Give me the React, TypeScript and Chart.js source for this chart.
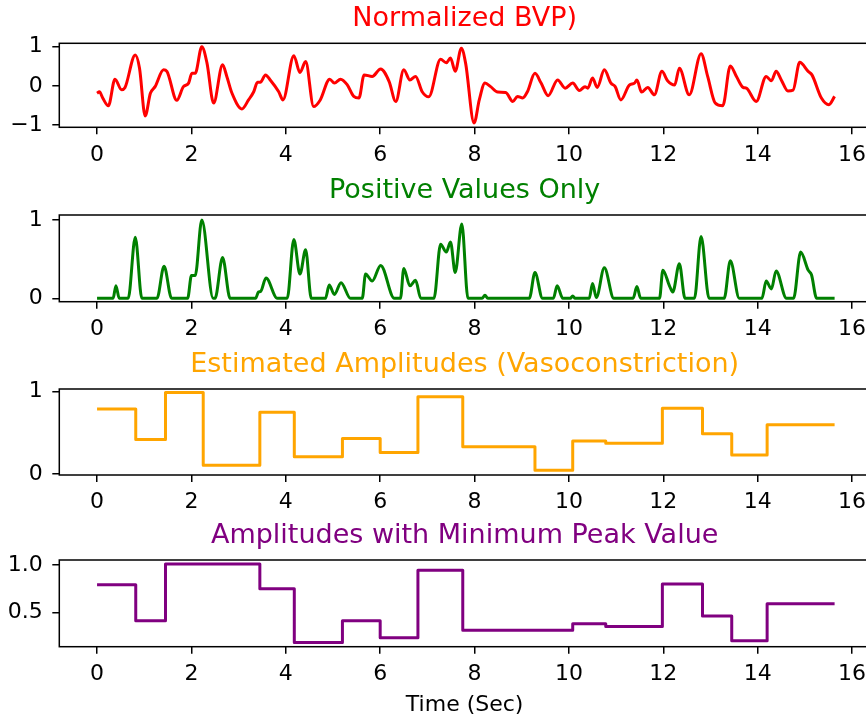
import React, { useEffect, useRef } from 'react';
import { Chart, registerables } from 'chart.js';

Chart.register(...registerables);

// ---------- data ----------
const bvpTime = [
  0.0, 0.05, 0.12, 0.24, 0.38, 0.52, 0.59, 0.81, 0.9, 1.02, 1.13, 1.23, 1.41, 1.48, 1.69, 1.83, 1.94,
  2.01, 2.08, 2.22, 2.33, 2.47, 2.66, 2.75, 2.86, 3.07, 3.21, 3.32, 3.4, 3.46, 3.57, 3.67, 3.85, 3.94,
  4.17, 4.3, 4.42, 4.59, 4.73, 4.93, 5.03, 5.16, 5.3, 5.44, 5.55, 5.66, 5.83, 6.01, 6.19, 6.33, 6.5,
  6.63, 6.75, 6.89, 7.03, 7.28, 7.4, 7.49, 7.59, 7.72, 7.81, 7.99, 8.1, 8.22, 8.34, 8.49, 8.66, 8.81,
  8.91, 9.02, 9.12, 9.28, 9.41, 9.56, 9.76, 9.92, 10.08, 10.22, 10.34, 10.4, 10.5, 10.6, 10.75, 10.89,
  10.98, 11.1, 11.28, 11.39, 11.44, 11.54, 11.67, 11.81, 11.97, 12.09, 12.24, 12.34, 12.55, 12.8,
  12.94, 13.1, 13.26, 13.42, 13.55, 13.69, 13.76, 13.97, 14.18, 14.29, 14.39, 14.5, 14.64, 14.75,
  14.89, 15.07, 15.15, 15.35, 15.51, 15.63,
];
const bvpValue = [
  -0.19, -0.15, -0.31, -0.51, 0.17, -0.1, -0.05, 0.79, 0.45, -0.77, -0.19, -0.02, 0.41, 0.37, -0.37,
  -0.02, 0.07, 0.32, 0.32, 1.0, 0.58, -0.44, 0.54, 0.24, -0.19, -0.59, -0.36, -0.15, 0.09, 0.09, 0.28,
  0.15, -0.15, -0.36, 0.77, 0.34, 0.62, -0.53, -0.36, 0.17, 0.07, 0.17, 0.03, -0.27, -0.31, 0.28, 0.24,
  0.43, 0.11, -0.4, 0.41, 0.15, 0.24, -0.15, -0.28, 0.68, 0.59, 0.71, 0.37, 0.96, 0.58, -0.95, -0.36,
  0.07, -0.02, -0.16, -0.17, -0.4, -0.27, -0.31, -0.15, 0.32, 0.07, -0.25, 0.15, -0.06, 0.07, -0.12,
  -0.02, -0.06, 0.2, -0.04, 0.41, 0.07, -0.02, -0.36, 0.02, 0.07, 0.15, -0.16, -0.04, -0.23, 0.37, 0.13,
  0.02, 0.45, -0.23, 0.82, 0.24, -0.44, -0.51, 0.51, 0.24, -0.04, -0.06, -0.4, 0.24, 0.13, 0.37, 0.15,
  -0.13, -0.11, 0.6, 0.37, 0.28, -0.31, -0.48, -0.27,
];

const posTime = [
  0, 0.34, 0.4, 0.47, 0.66, 0.81, 0.95, 1.27, 1.42, 1.58, 1.92, 2.0, 2.08, 2.22, 2.46, 2.5, 2.66, 2.82,
  3.36, 3.42, 3.47, 3.58, 3.82, 4.03, 4.17, 4.3, 4.42, 4.54, 4.84, 4.92, 5.03, 5.17, 5.37, 5.62, 5.69,
  5.83, 6.01, 6.3, 6.43, 6.5, 6.63, 6.75, 6.86, 7.14, 7.28, 7.4, 7.49, 7.59, 7.73, 7.86, 8.16, 8.22,
  8.28, 9.16, 9.28, 9.44, 9.67, 9.75, 9.87, 10.03, 10.08, 10.13, 10.43, 10.5, 10.58, 10.75, 10.95,
  11.36, 11.44, 11.52, 11.92, 11.99, 12.13, 12.2, 12.34, 12.46, 12.66, 12.8, 12.97, 13.29, 13.42,
  13.61, 14.09, 14.18, 14.29, 14.39, 14.61, 14.76, 14.91, 15.07, 15.14, 15.25, 15.63,
];
const posValue = [
  0, 0, 0.16, 0, 0, 0.78, 0, 0, 0.41, 0, 0, 0.29, 0.29, 1.0, 0, 0, 0.52, 0, 0, 0.08, 0.09, 0.26, 0, 0,
  0.75, 0.31, 0.62, 0, 0, 0.17, 0.05, 0.2, 0, 0, 0.31, 0.22, 0.42, 0, 0, 0.38, 0.16, 0.23, 0, 0, 0.69,
  0.59, 0.72, 0.33, 0.95, 0, 0, 0.04, 0, 0, 0.33, 0, 0, 0.16, 0, 0, 0.03, 0, 0, 0.19, 0.01, 0.39, 0,
  0, 0.15, 0, 0, 0.36, 0.16, 0.08, 0.44, 0, 0, 0.79, 0, 0, 0.48, 0, 0, 0.22, 0.12, 0.35, 0, 0, 0.59,
  0.36, 0.3, 0, 0,
];

const ampTime = [0, 0.82, 1.45, 2.25, 3.45, 4.18, 5.2, 6.0, 6.8, 7.75, 9.28, 10.08, 10.78, 11.98, 12.83, 13.45, 14.2, 15.63];
const ampValue = [0.79, 0.42, 0.99, 0.105, 0.75, 0.21, 0.43, 0.26, 0.94, 0.33, 0.045, 0.4, 0.375, 0.8, 0.49, 0.23, 0.6, 0.6];

const minAmpTime = [0, 0.82, 1.45, 3.45, 4.18, 5.2, 6.0, 6.8, 7.75, 10.08, 10.78, 11.98, 12.83, 13.45, 14.2, 15.63];
const minAmpValue = [0.79, 0.41, 1.01, 0.75, 0.18, 0.41, 0.23, 0.945, 0.31, 0.38, 0.35, 0.8, 0.46, 0.2, 0.59, 0.59];

const xTicks = [0, 2, 4, 6, 8, 10, 12, 14, 16];
const bvpTicks = [-1, 0, 1];
const posTicks = [0, 1];
const ampTicks = [0, 1];
const minAmpTicks = [0.5, 1.0];

const panelTitles = [
  'Normalized BVP)',
  'Positive Values Only',
  'Estimated Amplitudes (Vasoconstriction)',
  'Amplitudes with Minimum Peak Value',
];
const xAxisLabel = 'Time (Sec)';

// ---------- layout / style ----------
const FONT_FAMILY = "'DejaVu Sans', 'Liberation Sans', sans-serif";
const CANVAS_W = 880;
const CANVAS_H = 720;
const AREA_LEFT = 59.3;
const AREA_RIGHT = 870;
const TITLE_SIZE = 27;
const TITLE_BLOCK = 37.5;
const TICK_SIZE = 22;

type Panel = {
  title: string;
  color: string;
  times: number[];
  values: number[];
  yMin: number;
  yMax: number;
  yTicks: number[];
  decimals: number;
  top: number;
  bottom: number;
  stepped: boolean;
  monotone: boolean;
  xLabel: string;
  xAxisH: number;
};

const panels: Panel[] = [
  { title: panelTitles[0], color: '#ff0000', times: bvpTime, values: bvpValue, yMin: -1.059, yMax: 1.087, yTicks: bvpTicks, decimals: 0, top: 43.3, bottom: 127.3, stepped: false, monotone: true, xLabel: '', xAxisH: 40 },
  { title: panelTitles[1], color: '#008000', times: posTime, values: posValue, yMin: -0.043, yMax: 1.064, yTicks: posTicks, decimals: 0, top: 215, bottom: 301.7, stepped: false, monotone: true, xLabel: '', xAxisH: 40 },
  { title: panelTitles[2], color: '#ffa500', times: ampTime, values: ampValue, yMin: -0.012, yMax: 1.033, yTicks: ampTicks, decimals: 0, top: 389, bottom: 475, stepped: true, monotone: false, xLabel: '', xAxisH: 40 },
  { title: panelTitles[3], color: '#800080', times: minAmpTime, values: minAmpValue, yMin: 0.136, yMax: 1.053, yTicks: minAmpTicks, decimals: 1, top: 560, bottom: 646.7, stepped: true, monotone: false, xLabel: xAxisLabel, xAxisH: 73.3 },
];

const fmt = (v: number, decimals: number) => {
  const s = decimals ? Math.abs(v).toFixed(decimals) : String(Math.round(Math.abs(v)));
  return v < 0 ? '\u2212' + s : s;
};

const boxPlugin = {
  id: 'axesBox',
  afterDatasetsDraw(chart: any) {
    const { ctx, chartArea: a } = chart;
    ctx.save();
    ctx.strokeStyle = '#000';
    ctx.lineWidth = 1.5;
    ctx.strokeRect(a.left, a.top, a.right - a.left, a.bottom - a.top);
    ctx.restore();
  },
};

function makeConfig(p: Panel): any {
  const tickGrid = {
    drawOnChartArea: false,
    drawTicks: true,
    tickLength: 7,
    tickColor: '#000',
    tickWidth: 1.5,
    color: '#000',
    lineWidth: 1.5,
  };
  const tickFont = { family: FONT_FAMILY, size: TICK_SIZE, lineHeight: 1 };
  return {
    type: 'line',
    data: {
      datasets: [
        {
          data: p.times.map((t, i) => ({ x: t, y: p.values[i] })),
          borderColor: p.color,
          borderWidth: 3,
          pointRadius: 0,
          fill: false,
          stepped: p.stepped ? true : false,
          tension: p.monotone ? 0.4 : 0,
          cubicInterpolationMode: p.monotone ? 'monotone' : 'default',
          borderJoinStyle: 'round',
          borderCapStyle: 'butt',
        },
      ],
    },
    options: {
      animation: false,
      responsive: false,
      devicePixelRatio: 1,
      layout: {
        padding: {
          top: p.top - TITLE_BLOCK,
          bottom: CANVAS_H - p.bottom - p.xAxisH,
          left: 0,
          right: CANVAS_W - AREA_RIGHT,
        },
      },
      plugins: {
        legend: { display: false },
        tooltip: { enabled: false },
        title: {
          display: true,
          text: p.title,
          color: p.color,
          fullSize: false,
          font: { family: FONT_FAMILY, size: TITLE_SIZE, weight: 'normal', lineHeight: 1 },
          padding: { top: 0, bottom: TITLE_BLOCK - TITLE_SIZE },
        },
      },
      scales: {
        x: {
          type: 'linear',
          min: -0.8,
          max: 16.38,
          afterBuildTicks: (s: any) => {
            s.ticks = xTicks.map((v) => ({ value: v }));
          },
          afterFit: (s: any) => {
            s.height = p.xAxisH;
          },
          grid: tickGrid,
          border: { display: false },
          ticks: {
            font: tickFont,
            color: '#000',
            padding: 9.5,
            maxRotation: 0,
            autoSkip: false,
            callback: (v: number) => fmt(v, 0),
          },
          title: {
            display: !!p.xLabel,
            text: p.xLabel,
            color: '#000',
            font: { family: FONT_FAMILY, size: TICK_SIZE, lineHeight: 1 },
            padding: { top: 0, bottom: 4 },
          },
        },
        y: {
          type: 'linear',
          min: p.yMin,
          max: p.yMax,
          afterBuildTicks: (s: any) => {
            s.ticks = p.yTicks.map((v) => ({ value: v }));
          },
          afterFit: (s: any) => {
            s.width = AREA_LEFT;
          },
          grid: tickGrid,
          border: { display: false },
          ticks: {
            font: tickFont,
            color: '#000',
            padding: 9.5,
            autoSkip: false,
            callback: (v: number) => fmt(v, p.decimals),
          },
        },
      },
    },
    plugins: [boxPlugin],
  };
}

export default function App() {
  const refs = useRef<(HTMLCanvasElement | null)[]>([]);

  useEffect(() => {
    const charts: Chart[] = [];
    panels.forEach((p, i) => {
      const c = refs.current[i];
      if (c) charts.push(new Chart(c, makeConfig(p)));
    });
    return () => charts.forEach((c) => c.destroy());
  }, []);

  return (
    <div
      style={{
        position: 'fixed',
        left: 0,
        top: 0,
        width: 866,
        height: 720,
        overflow: 'hidden',
        background: '#ffffff',
      }}
    >
      {panels.map((p, i) => (
        <canvas
          key={i}
          ref={(el) => {
            refs.current[i] = el;
          }}
          width={CANVAS_W}
          height={CANVAS_H}
          style={{ position: 'absolute', left: 0, top: 0, width: CANVAS_W, height: CANVAS_H }}
        />
      ))}
    </div>
  );
}
